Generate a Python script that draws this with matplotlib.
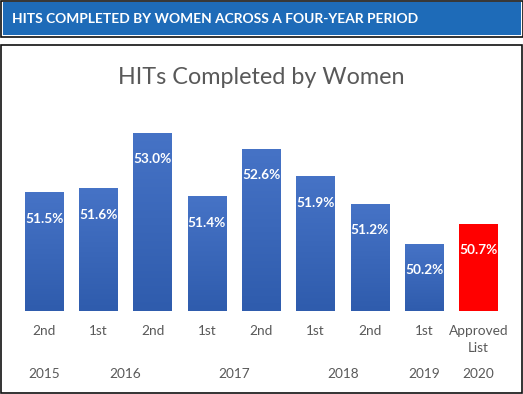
import matplotlib
matplotlib.use("Agg")
import matplotlib.pyplot as plt
from matplotlib.patches import Rectangle
from matplotlib.colors import LinearSegmentedColormap
from matplotlib.transforms import blended_transform_factory
import numpy as np

halves = ["2nd", "1st", "2nd", "1st", "2nd", "1st", "2nd", "1st", "Approved\nList"]
values = [51.5, 51.6, 53.0, 51.4, 52.6, 51.9, 51.2, 50.2, 50.7]
bar_colors = ["#3a67bc"] * 8 + ["#ff0000"]
years = ["2015", "2016", "2017", "2018", "2019", "2020"]
year_pos = [0, 1.5, 3.5, 5.5, 7, 8]

W, H = 523, 394
fig = plt.figure(figsize=(W / 100, H / 100), dpi=100)

def px_rect(x0, y0, x1, y1, **kw):
    fig.patches.append(Rectangle((x0 / W, 1 - y1 / H), (x1 - x0) / W, (y1 - y0) / H,
                                 transform=fig.transFigure, zorder=-10, **kw))

# header band
px_rect(0.5, 0.5, 522.5, 37, facecolor="white", edgecolor="#111111", linewidth=1.2)
px_rect(2.5, 2.5, 520.5, 35, facecolor="#1e6bb8", edgecolor="none")
fig.text(12 / W, 1 - 19 / H, "HITS COMPLETED BY WOMEN ACROSS A FOUR-YEAR PERIOD",
         color="white", fontsize=9.9, fontweight="bold", family="Lato",
         ha="left", va="center")

# chart box
px_rect(1, 45, 522, 393, facecolor="white", edgecolor="#111111", linewidth=1.2)

fig.text(261 / W, 1 - 77 / H, "HITs Completed by Women", color="#595959",
         fontsize=16.8, family="Lato", ha="center", va="center")

ax = fig.add_axes([17 / W, (H - 311) / H, 488.5 / W, 198 / H])
ax.set_facecolor("none")
x = np.arange(len(values))
base = 48.5
bars = ax.bar(x, np.array(values) - base, bottom=base, width=0.71, color=bar_colors)
ax.set_ylim(48.5, 53.5)
ax.set_xlim(-0.5, len(values) - 0.5)

grad = LinearSegmentedColormap.from_list("g", ["#2f5cad", "#4673c6"])
for b, c in zip(bars, bar_colors):
    if c == "#ff0000":
        continue
    x0, y0 = b.get_x(), b.get_y()
    w, h = b.get_width(), b.get_height()
    im = ax.imshow(np.linspace(0, 1, 64).reshape(-1, 1), cmap=grad, aspect="auto",
                   origin="lower", extent=(x0, x0 + w, y0, y0 + h), zorder=b.get_zorder())
    im.set_clip_path(b)
ax.set_xlim(-0.5, len(values) - 0.5)
ax.set_ylim(48.5, 53.5)

for s in ax.spines.values():
    s.set_visible(False)
ax.set_yticks([])
ax.set_xticks(x)
ax.set_xticklabels(halves, color="#595959", fontsize=9.8, family="Lato", linespacing=1.5)
ax.tick_params(axis="x", length=0, pad=10)

for xi, v in zip(x, values):
    ax.annotate(f"{v:.1f}%", (xi, v), xytext=(0, -19), textcoords="offset points",
                ha="center", va="center", color="white", fontsize=9.8,
                fontweight="bold", family="Lato", zorder=5)

tr = blended_transform_factory(ax.transData, fig.transFigure)
for yp, yl in zip(year_pos, years):
    ax.text(yp, 1 - 374 / H, yl, transform=tr, ha="center", va="center",
            color="#595959", fontsize=9.8, family="Lato")

fig.savefig("out.png", dpi=100)
